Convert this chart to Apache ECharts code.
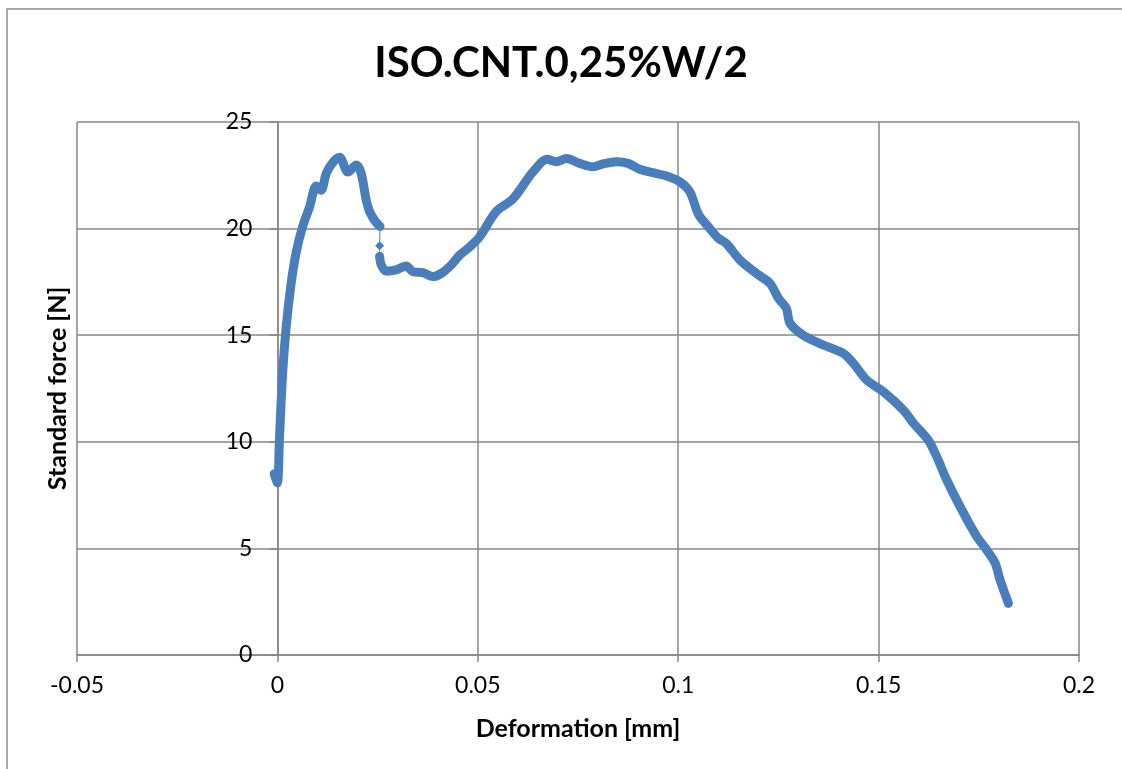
<!DOCTYPE html>
<html>
<head>
<meta charset="utf-8">
<title>ISO.CNT.0,25%W/2</title>
<script src="https://cdn.jsdelivr.net/npm/echarts@6/dist/echarts.min.js"></script>
<style>
  html, body { margin: 0; padding: 0; background: #ffffff; }
  #chart { width: 1122px; height: 769px; }
</style>
</head>
<body>
<div id="chart"></div>
<script>
// Load–deformation record of the specimen
const chartTitle = 'ISO.CNT.0,25%W/2';
const xAxisTitle = 'Deformation [mm]';
const yAxisTitle = 'Standard force [N]';

const deformation = [
  -0.0008, 0.0000, 0.0005, 0.0013, 0.0022, 0.0034, 0.0047, 0.0063, 0.0080, 0.0097,
  0.0109, 0.0122, 0.0138, 0.0155, 0.0176, 0.0197, 0.0209, 0.0222, 0.0230, 0.0242,
  0.0256, 0.0255, 0.0255, 0.0259, 0.0271, 0.0296, 0.0321, 0.0338, 0.0363, 0.0388,
  0.0409, 0.0434, 0.0455, 0.0480, 0.0504, 0.0546, 0.0588, 0.0638, 0.0673, 0.0696,
  0.0721, 0.0754, 0.0787, 0.0812, 0.0846, 0.0875, 0.0904, 0.0937, 0.0971, 0.1004,
  0.1029, 0.1046, 0.1054, 0.1079, 0.1100, 0.1120, 0.1154, 0.1195, 0.1229, 0.1250,
  0.1270, 0.1279, 0.1312, 0.1362, 0.1412, 0.1437, 0.1470, 0.1512, 0.1562, 0.1587,
  0.1624, 0.1645, 0.1670, 0.1712, 0.1745, 0.1770, 0.1791, 0.1803, 0.1824
];
const force = [
  8.50, 8.07, 10.1, 13.2, 15.4, 17.4, 18.9, 20.1, 21.0, 22.0,
  21.8, 22.6, 23.1, 23.35, 22.65, 22.98, 22.6, 21.3, 20.8, 20.4,
  20.1, 19.2, 18.7, 18.3, 18.0, 18.06, 18.25, 17.98, 17.93, 17.75,
  17.9, 18.3, 18.76, 19.15, 19.6, 20.8, 21.4, 22.67, 23.25, 23.14,
  23.29, 23.06, 22.9, 23.03, 23.14, 23.06, 22.78, 22.62, 22.47, 22.2,
  21.73, 20.87, 20.56, 20.0, 19.55, 19.3, 18.53, 17.9, 17.43, 16.73,
  16.26, 15.56, 15.0, 14.54, 14.15, 13.68, 12.9, 12.35, 11.49, 10.87,
  10.08, 9.3, 8.21, 6.65, 5.55, 4.92, 4.3, 3.52, 2.42
];

// the sudden load drop after the first peak is sparsely sampled
const dropFirst = 20;   // last point before the drop
const dropLast = 22;    // first point after the drop

const xTicks = { min: -0.05, max: 0.2, step: 0.05 };
const yTicks = { min: 0, max: 25, step: 5 };

const pairs = deformation.map((d, i) => [d, force[i]]);
const dense1 = pairs.slice(0, dropFirst + 1);
const drop = pairs.slice(dropFirst, dropLast + 1);
const dense2 = pairs.slice(dropLast);

const blue = '#4a7ebb';
const gridGray = '#878787';
const font = 'Lato, Carlito, "Open Sans", sans-serif';

const W = 1122, H = 769;
const gridBox = { left: 77, right: 43, top: 122, bottom: 114 };
// the value axis crosses the horizontal axis at deformation = 0
const plotWidth = W - gridBox.left - gridBox.right;
const yAxisShift = -plotWidth * (0 - xTicks.min) / (xTicks.max - xTicks.min);

const chart = echarts.init(document.getElementById('chart'), null, { renderer: 'canvas', width: W, height: H });

chart.setOption({
  animation: false,
  backgroundColor: '#ffffff',
  title: {
    text: chartTitle,
    left: 'center',
    top: 37,
    textStyle: { fontFamily: font, fontWeight: 'bold', fontSize: 42, color: '#000' }
  },
  graphic: [{
    type: 'rect',
    shape: { x: 7, y: 9, width: 1300, height: 900 },
    style: { fill: 'none', stroke: '#8c8c8c', lineWidth: 1.5 },
    silent: true,
    z: -1
  }],
  grid: Object.assign({ containLabel: false, outerBoundsMode: 'none' }, gridBox),
  xAxis: {
    type: 'value',
    min: xTicks.min, max: xTicks.max, interval: xTicks.step,
    name: xAxisTitle,
    nameLocation: 'middle',
    nameGap: 61,
    nameTextStyle: { fontFamily: font, fontWeight: 'bold', fontSize: 25, color: '#000' },
    axisLine: { show: true, onZero: false, lineStyle: { color: gridGray, width: 1.5 } },
    axisTick: { show: true, inside: false, length: 7, lineStyle: { color: gridGray, width: 1.5 } },
    axisLabel: {
      fontFamily: font, fontSize: 23, color: '#000', margin: 19,
      formatter: v => String(parseFloat(v.toFixed(2)))
    },
    splitLine: { show: true, lineStyle: { color: gridGray, width: 1.5 } }
  },
  yAxis: {
    type: 'value',
    min: yTicks.min, max: yTicks.max, interval: yTicks.step,
    offset: yAxisShift,
    name: yAxisTitle,
    nameLocation: 'middle',
    nameGap: 207,
    nameRotate: 90,
    nameTextStyle: { fontFamily: font, fontWeight: 'bold', fontSize: 25, color: '#000' },
    axisLine: { show: true, onZero: false, lineStyle: { color: gridGray, width: 1.5 } },
    axisTick: { show: true, inside: false, length: 8, lineStyle: { color: gridGray, width: 1.5 } },
    axisLabel: { fontFamily: font, fontSize: 23, color: '#000', margin: 25 },
    splitLine: { show: true, lineStyle: { color: gridGray, width: 1.5 } }
  },
  series: [
    {
      type: 'line', data: dense1, symbol: 'none', smooth: 0.3,
      lineStyle: { color: blue, width: 9, cap: 'round', join: 'round' }, z: 3
    },
    {
      type: 'line', data: drop, symbol: 'diamond', symbolSize: 9, showSymbol: true,
      itemStyle: { color: blue }, lineStyle: { color: blue, width: 1 }, z: 2
    },
    {
      type: 'line', data: dense2, symbol: 'none', smooth: 0.3,
      lineStyle: { color: blue, width: 9, cap: 'round', join: 'round' }, z: 3
    }
  ]
});
</script>
</body>
</html>
